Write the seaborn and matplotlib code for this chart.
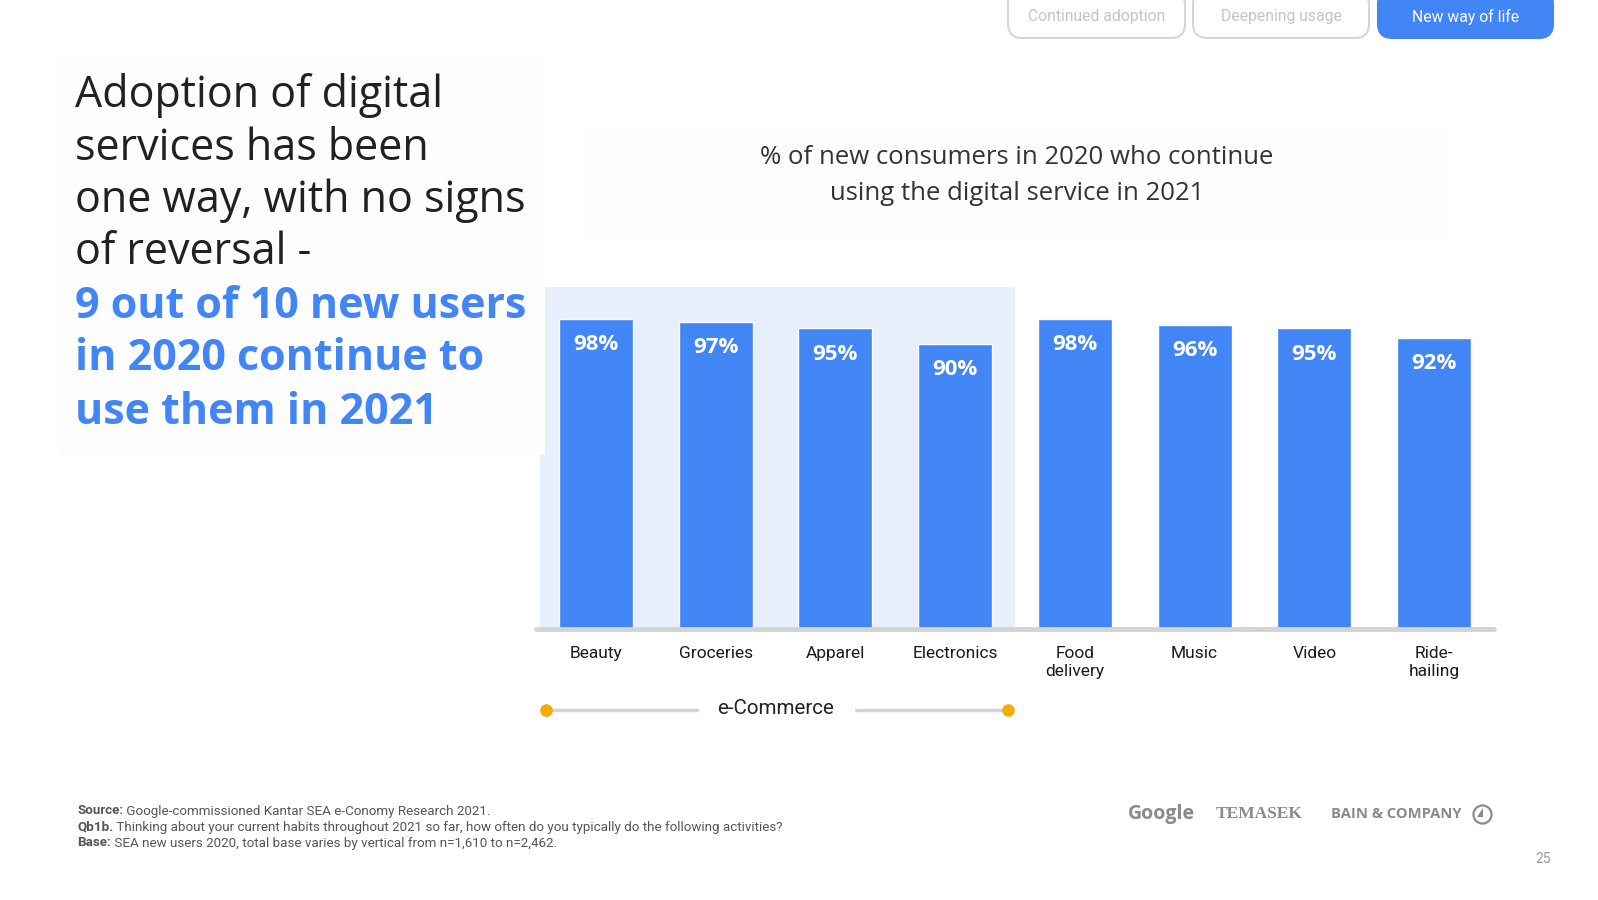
import matplotlib
matplotlib.use("Agg")
import matplotlib.pyplot as plt
from matplotlib.patches import FancyBboxPatch, Rectangle, Polygon
import seaborn as sns
import pandas as pd

# ---- data ----
categories = ["Beauty", "Groceries", "Apparel", "Electronics",
              "Food\ndelivery", "Music", "Video", "Ride-\nhailing"]
values = [98, 97, 95, 90, 98, 96, 95, 92]
value_labels = ["98%", "97%", "95%", "90%", "98%", "96%", "95%", "92%"]
ecommerce_span = ["Beauty", "Electronics"]

title_lines = ["% of new consumers in 2020 who continue",
               "using the digital service in 2021"]
heading_dark = ["Adoption of digital", "services has been",
                "one way, with no signs", "of reversal -"]
heading_blue = ["9 out of 10 new users", "in 2020 continue to",
                "use them in 2021"]
tabs = ["Continued adoption", "Deepening usage", "New way of life"]

BLUE = "#4285F4"
W, H = 1598, 900

sns.set_theme(style="white")
plt.rcParams["font.family"] = ["Open Sans", "DejaVu Sans"]

fig = plt.figure(figsize=(W / 100, H / 100), dpi=100)
fig.patch.set_facecolor("white")


def fx(px):
    return px / W


def fy(py):
    return 1 - py / H


# very faint background panels
fig.patches.append(Rectangle((fx(60), fy(455)), fx(545) - fx(60), fy(55) - fy(455),
                             transform=fig.transFigure, facecolor="#fdfdfd",
                             edgecolor="none", zorder=0))
fig.patches.append(Rectangle((fx(585), fy(243)), fx(1448) - fx(585), fy(125) - fy(243),
                             transform=fig.transFigure, facecolor="#fdfdfd",
                             edgecolor="none", zorder=0))

# ---- bar chart ----
ax_left, ax_right, ax_top, ax_bottom = 536, 1494, 287, 629
ax = fig.add_axes([fx(ax_left), fy(ax_bottom), fx(ax_right) - fx(ax_left),
                   fy(ax_top) - fy(ax_bottom)])
ax.set_facecolor("none")
df = pd.DataFrame({"category": categories, "value": values})
sns.barplot(data=df, x="category", y="value", color=BLUE, saturation=1,
            width=0.62, ax=ax, zorder=3)
ax.set_xlim(-0.5, len(categories) - 0.5)
ax.set_ylim(0, 108.1)
i0 = categories.index(ecommerce_span[0])
i1 = categories.index(ecommerce_span[1])
ax.axvspan(i0 - 0.47, i1 + 0.5, color="#e8effc", zorder=1, lw=0)
ax.axhline(0, color="#d3d3d3", lw=3.5, zorder=4, clip_on=False)
for s in ax.spines.values():
    s.set_visible(False)
ax.set_yticks([])
ax.set_xlabel("")
ax.set_ylabel("")
ax.tick_params(axis="x", length=0, pad=12)
for t in ax.get_xticklabels():
    t.set_fontfamily(["Roboto", "DejaVu Sans"])
    t.set_fontsize(12.5)
    t.set_color("#1a1a1a")
    t.set_linespacing(1.3)
    t.set_verticalalignment("top")
for i, (v, lab) in enumerate(zip(values, value_labels)):
    ax.annotate(lab, xy=(i, v), xytext=(0, -18.5), textcoords="offset points",
                ha="center", va="center", color="white", fontsize=16,
                fontweight="bold", zorder=5)

# ---- title ----
fig.text(fx(1017), fy(157), title_lines[0], ha="center", va="center",
         fontsize=18.5, color="#333333")
fig.text(fx(1017), fy(193), title_lines[1], ha="center", va="center",
         fontsize=18.5, color="#333333")

# ---- left heading ----
ys_dark = [96, 149, 201, 253]
for y, line in zip(ys_dark, heading_dark):
    fig.text(fx(75), fy(y), line, ha="left", va="center", fontsize=31,
             color="#202124")
ys_blue = [307, 359, 412]
for y, line in zip(ys_blue, heading_blue):
    fig.text(fx(75), fy(y), line, ha="left", va="center", fontsize=31,
             color=BLUE, fontweight="bold")

# ---- e-Commerce bracket ----
fig.add_artist(plt.Line2D([fx(546), fx(697)], [fy(710), fy(710)], color="#d3d3d3",
                          lw=2.5, transform=fig.transFigure))
fig.add_artist(plt.Line2D([fx(856), fx(1008)], [fy(710), fy(710)], color="#d3d3d3",
                          lw=2.5, transform=fig.transFigure))
fig.add_artist(plt.Line2D([fx(546), fx(1008)], [fy(710), fy(710)], color="#F9AB00",
                          lw=0, marker="o", markersize=8, transform=fig.transFigure))
fig.text(fx(776), fy(708), "e-Commerce", ha="center", va="center", fontsize=14.8,
         color="#222222", fontfamily=["Roboto", "DejaVu Sans"])

# ---- tabs ----
tab_boxes = [(1008, 1185), (1193, 1369), (1378, 1553)]
for (x0, x1), name in zip(tab_boxes, tabs):
    active = name == tabs[-1]
    box = FancyBboxPatch((fx(x0), fy(38)), fx(x1) - fx(x0), fy(-10) - fy(38),
                         boxstyle="round,pad=0,rounding_size=0.009",
                         transform=fig.transFigure, mutation_aspect=W / H,
                         facecolor=BLUE if active else "white",
                         edgecolor=BLUE if active else "#d6d6d6", lw=1.5,
                         clip_on=False)
    fig.patches.append(box)
    fig.text(fx((x0 + x1) / 2), fy(17), name, ha="center", va="center",
             fontsize=11.3, color="white" if active else "#c4c4c4",
             fontfamily=["Roboto", "DejaVu Sans"])

# ---- footer ----
foot = [("Source:", " Google-commissioned Kantar SEA e-Conomy Research 2021."),
        ("Qb1b.", " Thinking about your current habits throughout 2021 so far, how often do you typically do the following activities?"),
        ("Base:", " SEA new users 2020, total base varies by vertical from n=1,610 to n=2,462.")]
r = fig.canvas.get_renderer()
for y, (b, rest) in zip([811, 827, 843], foot):
    t = fig.text(fx(77), fy(y), b, ha="left", va="center", fontsize=9.6,
                 fontweight="bold", color="#555555",
                 fontfamily=["Roboto", "DejaVu Sans"])
    bb = t.get_window_extent(renderer=r)
    fig.text(bb.x1 / W, fy(y), rest, ha="left", va="center", fontsize=9.6,
             color="#555555", fontfamily=["Roboto", "DejaVu Sans"])

# ---- logos ----
fig.text(fx(1161), fy(814), "Google", ha="center", va="center", fontsize=14,
         fontweight="bold", color="#8a8a8a")
fig.text(fx(1259), fy(814), "TEMASEK", ha="center", va="center", fontsize=12.5,
         fontweight="bold", color="#8a8a8a", fontfamily=["Liberation Serif", "DejaVu Serif"])
fig.text(fx(1396), fy(814), "BAIN & COMPANY", ha="center", va="center", fontsize=10.6,
         fontweight="bold", color="#8a8a8a")
fig.add_artist(plt.Line2D([fx(1482)], [fy(814)], marker="o", markersize=13,
                          markerfacecolor="none", markeredgecolor="#8a8a8a",
                          markeredgewidth=1.6, lw=0, transform=fig.transFigure))
fig.patches.append(Polygon([(fx(1483), fy(808)), (fx(1483), fy(817)), (fx(1477), fy(817))],
                           closed=True, transform=fig.transFigure,
                           facecolor="#8a8a8a", edgecolor="none"))
fig.text(fx(1543), fy(859), "25", ha="center", va="center", fontsize=10,
         color="#999999", fontfamily=["Roboto", "DejaVu Sans"])

fig.savefig("out.png", dpi=100, facecolor="white")
